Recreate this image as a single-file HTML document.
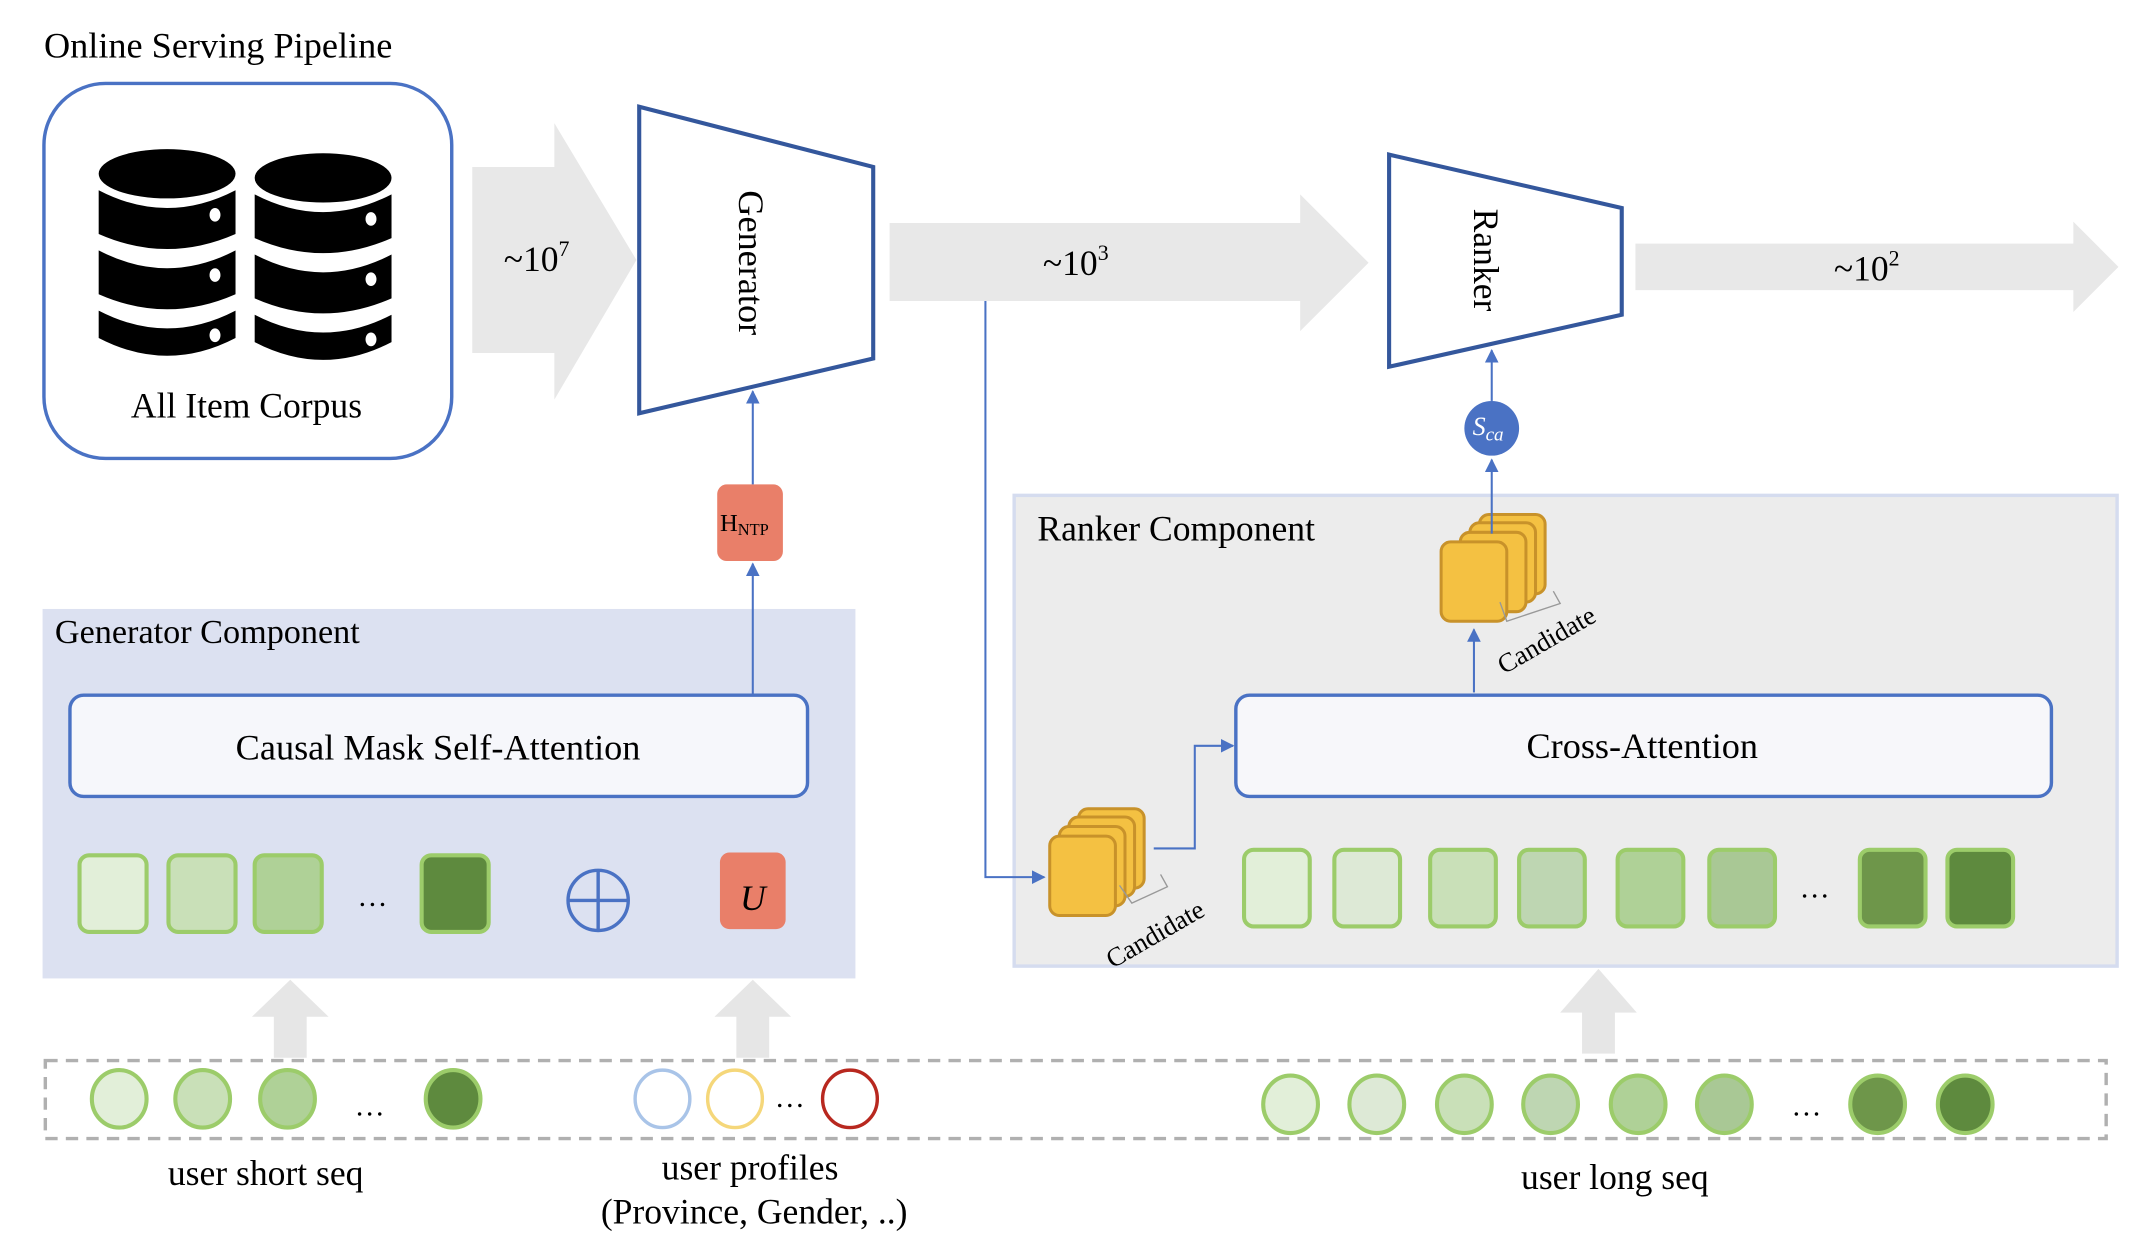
<!DOCTYPE html>
<html><head><meta charset="utf-8"><style>
html,body{margin:0;padding:0;background:#fff;}
svg{display:block;}
text{font-family:"Liberation Serif",serif;fill:#000;}
</style></head><body>
<svg width="2146" height="1248" viewBox="0 0 1568 912" xmlns="http://www.w3.org/2000/svg">
<defs>
<marker id="ah" markerWidth="10" markerHeight="10" refX="9" refY="5" orient="auto" markerUnits="userSpaceOnUse"><path d="M0,0 L10,5 L0,10 z" fill="#4a72c4"/></marker>
<g id="db">
<ellipse cx="50" cy="20" rx="50" ry="18" fill="#000"/>
<path d="M0,32 Q50,58 100,32 L100,64 Q50,86 0,64 z" fill="#000"/>
<path d="M0,76 Q50,102 100,76 L100,108 Q50,130 0,108 z" fill="#000"/>
<path d="M0,120 Q50,146 100,120 L100,140 Q50,166 0,140 z" fill="#000"/>
<ellipse cx="85" cy="50" rx="4" ry="5" fill="#fff"/>
<ellipse cx="85" cy="94" rx="4" ry="5" fill="#fff"/>
<ellipse cx="85" cy="138" rx="4" ry="5" fill="#fff"/>
</g>
<g id="card"><rect x="0" y="0" width="48" height="58" rx="7" fill="#f4c142" stroke="#c8922a" stroke-width="2.2"/></g>
</defs>

<text x="32" y="42" font-size="26.5">Online  Serving Pipeline</text>
<rect x="32" y="61" width="298" height="274" rx="45" fill="#fff" stroke="#4a72c4" stroke-width="2.5"/>
<use href="#db" x="72" y="107"/>
<use href="#db" x="186" y="110"/>
<text x="180" y="305" font-size="26" text-anchor="middle">All Item Corpus</text>

<path d="M345,122 L405,122 L405,90 L465,190 L405,292 L405,258 L345,258 z" fill="#e8e8e8"/>
<text x="368" y="198" font-size="26">~10<tspan font-size="16" dy="-11">7</tspan></text>

<polygon points="467,78 638,122 638,262 467,302" fill="#fff" stroke="#34579c" stroke-width="3"/>
<text transform="translate(540,192) rotate(90)" font-size="26.5" text-anchor="middle">Generator</text>

<path d="M650,163 L950,163 L950,142 L1000,192 L950,242 L950,220 L650,220 z" fill="#e8e8e8"/>
<text x="762" y="201" font-size="26">~10<tspan font-size="16" dy="-11">3</tspan></text>

<polygon points="1015,113 1185,152 1185,230 1015,268" fill="#fff" stroke="#34579c" stroke-width="3"/>
<text transform="translate(1077,190) rotate(90)" font-size="26" text-anchor="middle">Ranker</text>

<path d="M1195,178 L1515,178 L1515,162 L1548,195 L1515,228 L1515,212 L1195,212 z" fill="#e8e8e8"/>
<text x="1340" y="205" font-size="26">~10<tspan font-size="16" dy="-11">2</tspan></text>

<!-- generator component -->
<rect x="31" y="445" width="594" height="270" fill="#dce1f1"/>
<text x="40" y="470" font-size="25">Generator Component</text>
<rect x="51" y="508" width="539" height="74" rx="10" fill="#f6f7fb" stroke="#4a72c4" stroke-width="2.5"/>
<text x="320" y="555" font-size="26.5" text-anchor="middle">Causal Mask Self-Attention</text>
<g stroke="#9ccc6a" stroke-width="3">
<rect x="58" y="625" width="49" height="56" rx="7" fill="#e2efd9"/>
<rect x="123" y="625" width="49" height="56" rx="7" fill="#c9e0b8"/>
<rect x="186" y="625" width="49" height="56" rx="7" fill="#afd197"/>
<rect x="308" y="625" width="49" height="56" rx="7" fill="#5e8a3e"/>
</g>
<text x="272" y="662" font-size="22" text-anchor="middle">…</text>
<circle cx="437" cy="658" r="22" fill="none" stroke="#4a72c4" stroke-width="2.5"/>
<line x1="415" y1="658" x2="459" y2="658" stroke="#4a72c4" stroke-width="2.5"/>
<line x1="437" y1="636" x2="437" y2="680" stroke="#4a72c4" stroke-width="2.5"/>
<rect x="526" y="623" width="48" height="56" rx="7" fill="#e97f69"/>
<text x="550" y="665" font-size="26" font-style="italic" text-anchor="middle">U</text>

<rect x="524" y="354" width="48" height="56" rx="7" fill="#e97f69"/>
<text x="526" y="388" font-size="18">H<tspan font-size="12" dy="3">NTP</tspan></text>
<line x1="550" y1="508" x2="550" y2="412" stroke="#4a72c4" stroke-width="1.5" marker-end="url(#ah)"/>
<line x1="550" y1="354" x2="550" y2="286" stroke="#4a72c4" stroke-width="1.5" marker-end="url(#ah)"/>

<!-- ranker component -->
<rect x="741" y="362" width="806" height="344" fill="#ececec" stroke="#d5dcef" stroke-width="2.5"/>
<text x="758" y="395" font-size="26">Ranker Component</text>
<rect x="903" y="508" width="596" height="74" rx="10" fill="#f7f7fa" stroke="#4a72c4" stroke-width="2.5"/>
<text x="1200" y="554" font-size="26.5" text-anchor="middle">Cross-Attention</text>
<g stroke="#9ccc6a" stroke-width="3">
<rect x="909" y="621" width="48" height="56" rx="7" fill="#e2efd9"/>
<rect x="975" y="621" width="48" height="56" rx="7" fill="#dde9d6"/>
<rect x="1045" y="621" width="48" height="56" rx="7" fill="#c9e0b8"/>
<rect x="1110" y="621" width="48" height="56" rx="7" fill="#bed6b2"/>
<rect x="1182" y="621" width="48" height="56" rx="7" fill="#afd197"/>
<rect x="1249" y="621" width="48" height="56" rx="7" fill="#a9c895"/>
<rect x="1359" y="621" width="48" height="56" rx="7" fill="#6e964a"/>
<rect x="1423" y="621" width="48" height="56" rx="7" fill="#5e8a3e"/>
</g>
<text x="1326" y="656" font-size="22" text-anchor="middle">…</text>

<!-- candidate stacks -->
<use href="#card" x="788" y="591"/>
<use href="#card" x="781" y="597"/>
<use href="#card" x="774" y="604"/>
<use href="#card" x="767" y="611"/>
<path d="M818,647 L827,660 L853,648 L848,639" fill="none" stroke="#999" stroke-width="1"/>
<text transform="translate(813,708) rotate(-30)" font-size="19.5">Candidate</text>

<use href="#card" x="1081" y="376"/>
<use href="#card" x="1074" y="382"/>
<use href="#card" x="1067" y="389"/>
<use href="#card" x="1053" y="396"/>
<path d="M1096,440 L1101,454 L1140,441 L1135,432" fill="none" stroke="#999" stroke-width="1"/>
<text transform="translate(1099,493) rotate(-30)" font-size="19.5">Candidate</text>

<polyline points="720,220 720,641 763,641" fill="none" stroke="#4a72c4" stroke-width="1.5" marker-end="url(#ah)"/>
<polyline points="843,620 873,620 873,545 901,545" fill="none" stroke="#4a72c4" stroke-width="1.5" marker-end="url(#ah)"/>
<line x1="1077" y1="506" x2="1077" y2="460" stroke="#4a72c4" stroke-width="1.5" marker-end="url(#ah)"/>
<line x1="1090" y1="390" x2="1090" y2="336" stroke="#4a72c4" stroke-width="1.5" marker-end="url(#ah)"/>
<circle cx="1090" cy="313" r="20" fill="#4a72c4"/>
<text x="1076" y="318" font-size="19" font-style="italic" style="fill:#fff">S<tspan font-size="14" dy="4" style="fill:#fff">ca</tspan></text>
<line x1="1090" y1="293" x2="1090" y2="256" stroke="#4a72c4" stroke-width="1.5" marker-end="url(#ah)"/>

<!-- gray up arrows -->
<path d="M200,773 L224,773 L224,743 L240,743 L212,716 L184,743 L200,743 z" fill="#e6e6e6"/>
<path d="M538,773 L562,773 L562,743 L578,743 L550,716 L522,743 L538,743 z" fill="#e6e6e6"/>
<path d="M1156,770 L1180,770 L1180,740 L1196,740 L1168,708 L1140,740 L1156,740 z" fill="#e6e6e6"/>

<!-- input row -->
<rect x="33" y="775" width="1506" height="57" fill="none" stroke="#b0b0b0" stroke-width="2.5" stroke-dasharray="9,6"/>
<g stroke="#9ccc6a" stroke-width="3">
<ellipse cx="87" cy="803" rx="20" ry="21" fill="#e2efd9"/>
<ellipse cx="148" cy="803" rx="20" ry="21" fill="#c9e0b8"/>
<ellipse cx="210" cy="803" rx="20" ry="21" fill="#afd197"/>
<ellipse cx="331" cy="803" rx="20" ry="21" fill="#5e8a3e"/>
<ellipse cx="943" cy="807" rx="20" ry="21" fill="#e2efd9"/>
<ellipse cx="1006" cy="807" rx="20" ry="21" fill="#dde9d6"/>
<ellipse cx="1070" cy="807" rx="20" ry="21" fill="#c9e0b8"/>
<ellipse cx="1133" cy="807" rx="20" ry="21" fill="#bed6b2"/>
<ellipse cx="1197" cy="807" rx="20" ry="21" fill="#afd197"/>
<ellipse cx="1260" cy="807" rx="20" ry="21" fill="#a9c895"/>
<ellipse cx="1372" cy="807" rx="20" ry="21" fill="#6e964a"/>
<ellipse cx="1436" cy="807" rx="20" ry="21" fill="#5e8a3e"/>
</g>
<text x="270" y="815" font-size="22" text-anchor="middle">…</text>
<text x="1320" y="815" font-size="22" text-anchor="middle">…</text>
<ellipse cx="484" cy="803" rx="20" ry="21" fill="#fff" stroke="#a9c4e8" stroke-width="2.5"/>
<ellipse cx="537" cy="803" rx="20" ry="21" fill="#fff" stroke="#f5d77a" stroke-width="2.5"/>
<text x="577" y="809" font-size="22" text-anchor="middle">…</text>
<ellipse cx="621" cy="803" rx="20" ry="21" fill="#fff" stroke="#b8281f" stroke-width="2.5"/>

<text x="194" y="866" font-size="26" text-anchor="middle">user short seq</text>
<text x="548" y="862" font-size="26" text-anchor="middle">user profiles</text>
<text x="551" y="894" font-size="26" text-anchor="middle">(Province, Gender, ..)</text>
<text x="1180" y="869" font-size="26" text-anchor="middle">user long seq</text>
</svg>
</body></html>
